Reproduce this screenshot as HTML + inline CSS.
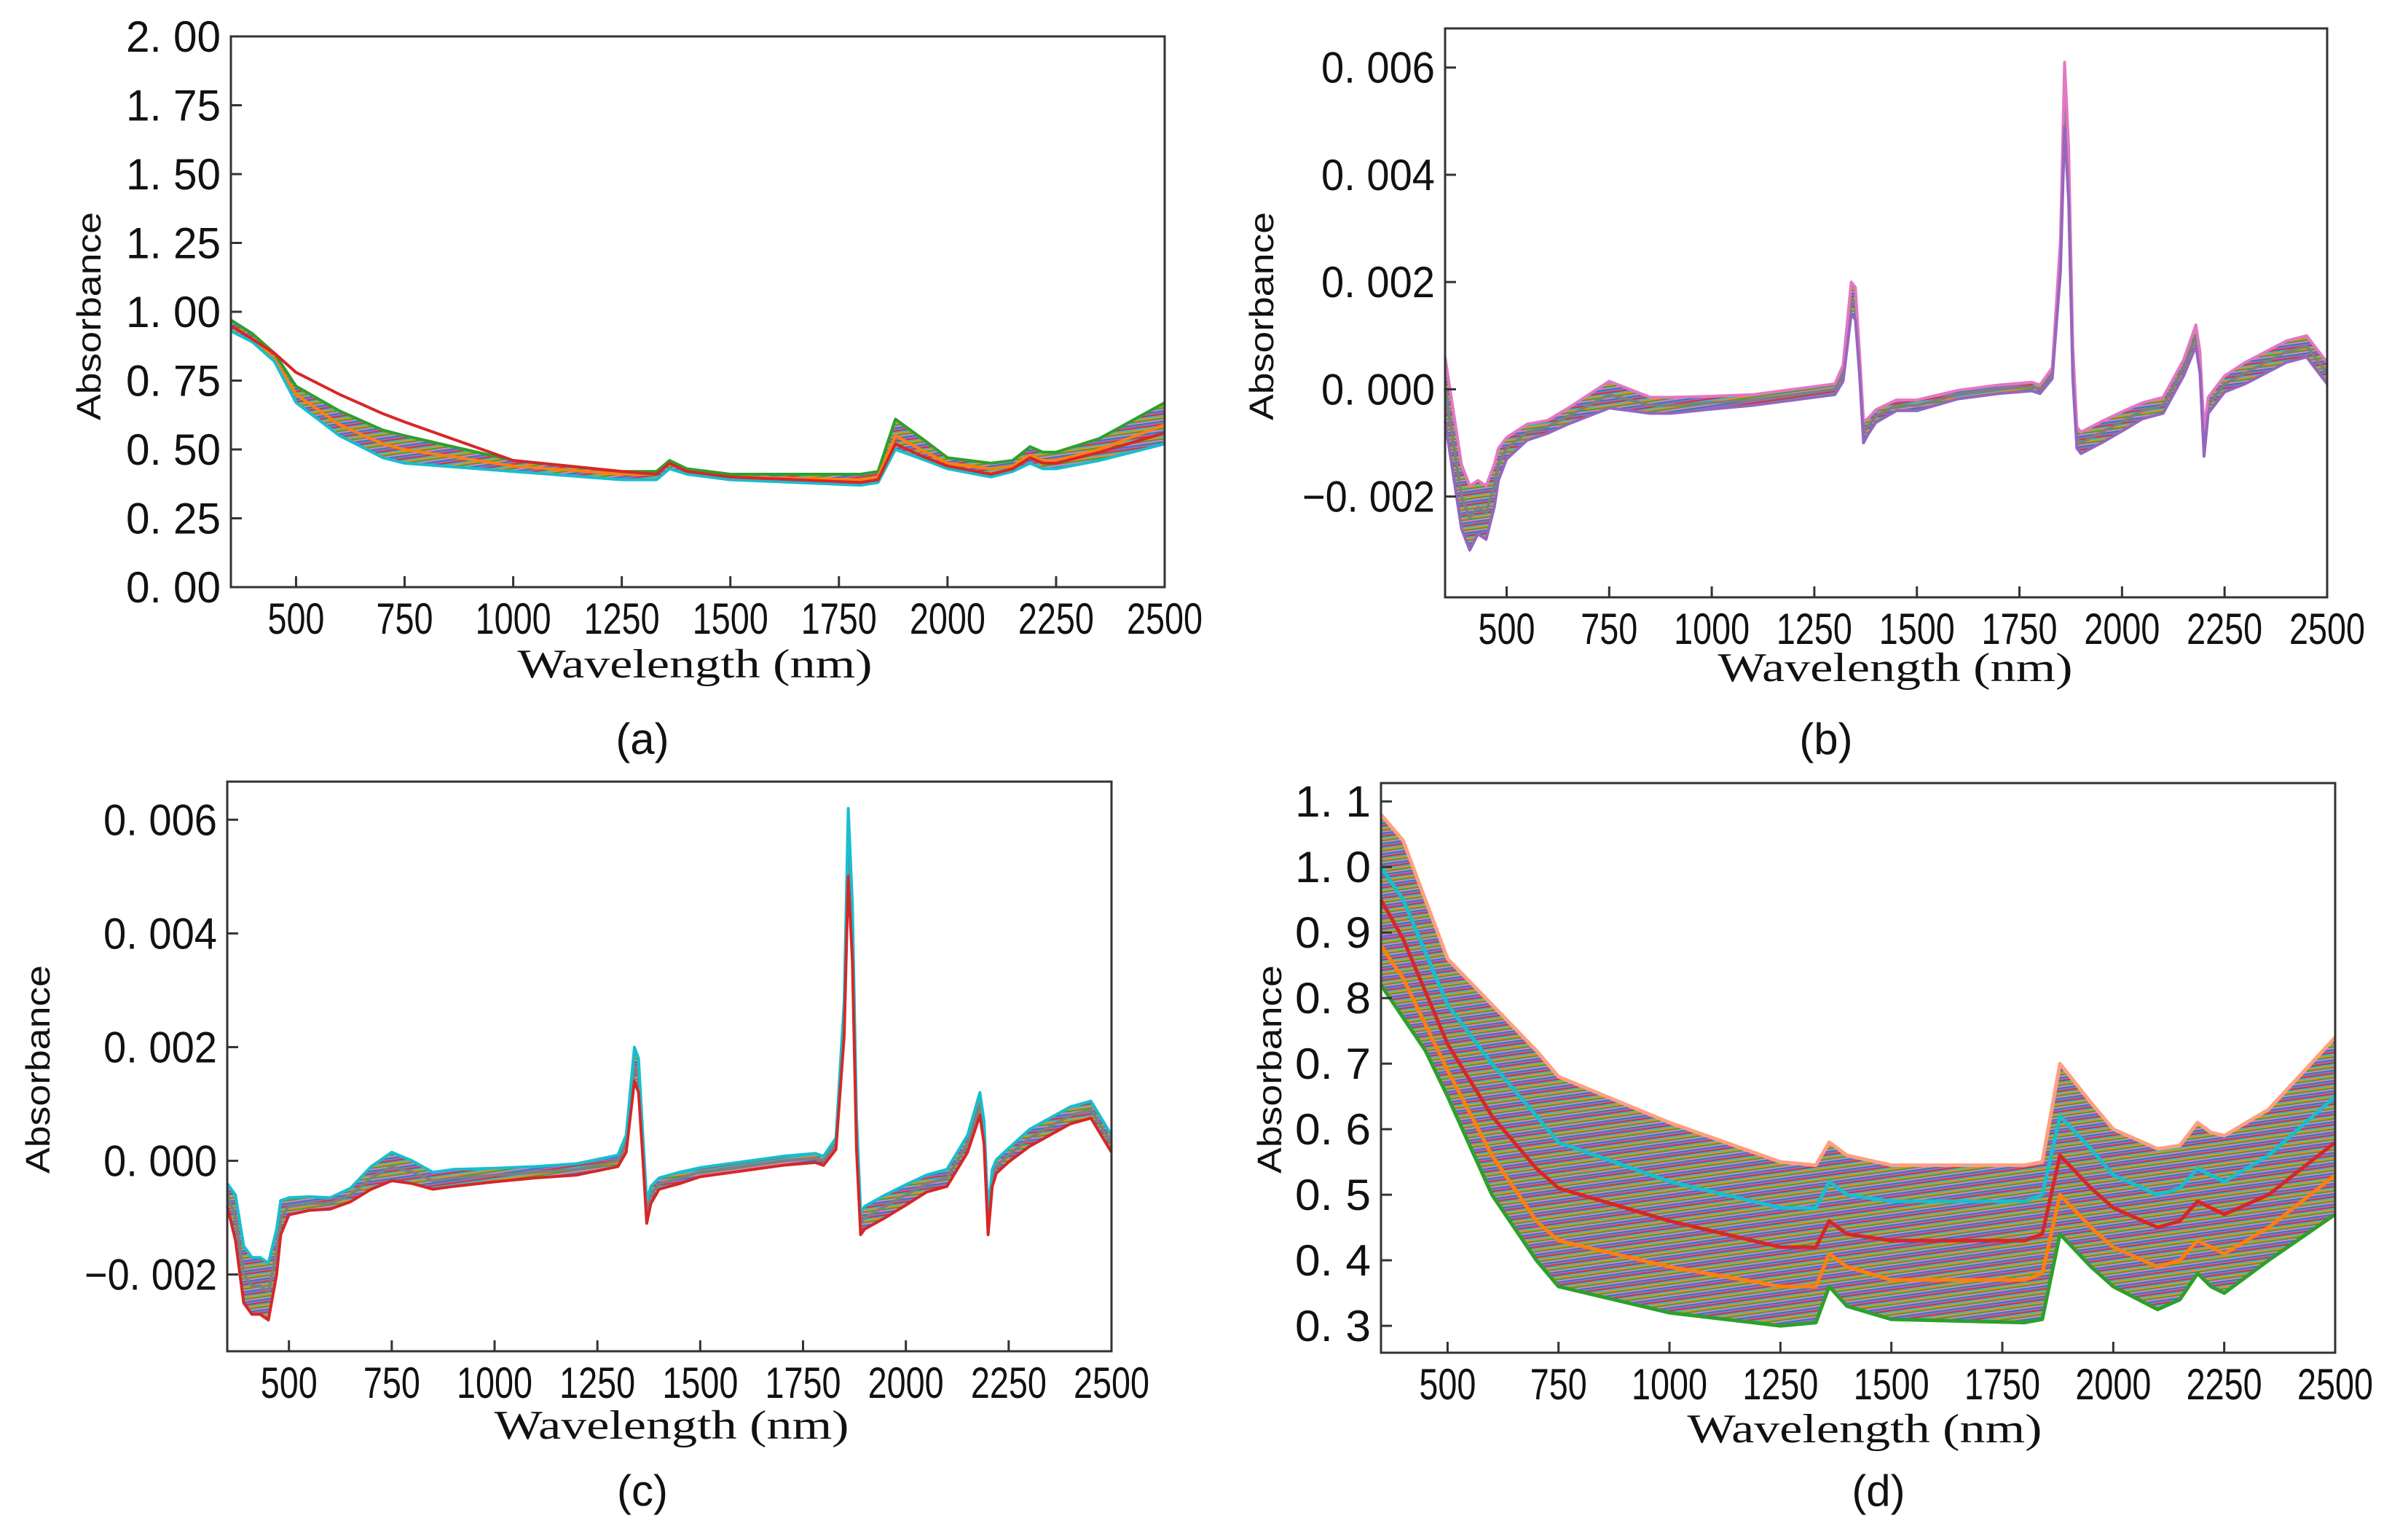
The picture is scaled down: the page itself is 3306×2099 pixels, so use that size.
<!DOCTYPE html>
<html><head><meta charset="utf-8"><style>
html,body{margin:0;padding:0;background:#fff;}
svg{display:block;}
text{fill:#111;}
.tick{font-family:"Liberation Sans","Noto Sans CJK SC",sans-serif;font-size:60px;}
.xl{font-family:"Liberation Serif",serif;font-size:56px;}
.yl{font-family:"Liberation Sans",sans-serif;font-size:46px;}
.cap{font-family:"Liberation Sans",sans-serif;font-size:60px;}
</style></head><body>
<svg id="fig" width="3306" height="2099" viewBox="0 0 3306 2099" xmlns="http://www.w3.org/2000/svg">
<defs>
<pattern id="mix" patternUnits="userSpaceOnUse" width="60" height="14" patternTransform="rotate(-8)">
<rect width="60" height="14" fill="#8c7fa0"/>
<rect y="0" width="60" height="2" fill="#d62728"/>
<rect y="2" width="60" height="2" fill="#17becf"/>
<rect y="4" width="60" height="2" fill="#ff7f0e"/>
<rect y="6" width="60" height="2" fill="#2ca02c"/>
<rect y="8" width="60" height="2" fill="#e377c2"/>
<rect y="10" width="60" height="2" fill="#1f77b4"/>
<rect y="12" width="60" height="2" fill="#9467bd"/>
</pattern>
</defs>
</svg>
<script>
// ---- shared axis data ----
const xTicks = [500,750,1000,1250,1500,1750,2000,2250,2500];

// ---- panel (a) ----
const aWl   = [350,400,450,500,600,700,750,1000,1250,1330,1360,1400,1500,1800,1840,1880,1950,2000,2100,2150,2190,2220,2250,2350,2500];
const aHigh = [0.97,0.92,0.85,0.73,0.64,0.57,0.55,0.46,0.42,0.42,0.46,0.43,0.41,0.41,0.42,0.61,0.53,0.47,0.45,0.46,0.51,0.49,0.49,0.54,0.67];
const aMid  = [0.95,0.90,0.83,0.70,0.59,0.52,0.50,0.44,0.41,0.41,0.45,0.42,0.40,0.39,0.40,0.55,0.49,0.45,0.43,0.44,0.48,0.46,0.46,0.50,0.59];
const aLow  = [0.93,0.89,0.82,0.67,0.55,0.47,0.45,0.42,0.39,0.39,0.43,0.41,0.39,0.37,0.38,0.50,0.46,0.43,0.40,0.42,0.45,0.43,0.43,0.46,0.52];
const aOut  = [0.95,0.90,0.85,0.78,0.70,0.63,0.60,0.46,0.42,0.41,0.45,0.42,0.40,0.38,0.39,0.52,0.47,0.44,0.41,0.43,0.47,0.45,0.45,0.49,0.56];
const aYTicks = [0,0.25,0.5,0.75,1.0,1.25,1.5,1.75,2.0];
const aYLabels = ["0. 00","0. 25","0. 50","0. 75","1. 00","1. 25","1. 50","1. 75","2. 00"];

// ---- panel (b) (values in units of 0.001) ----
const dWl    = [350,370,390,410,430,450,470,480,500,550,600,650,700,750,800,850,900,1000,1100,1200,1300,1320,1340,1350,1360,1370,1380,1400,1450,1500,1600,1700,1780,1800,1830,1850,1860,1870,1880,1890,1900,1950,2000,2050,2100,2150,2180,2190,2200,2210,2220,2250,2300,2350,2400,2450,2500];
const bMean  = [0.0,-1.0,-2.0,-2.4,-2.2,-2.3,-1.8,-1.4,-1.1,-0.8,-0.7,-0.5,-0.3,-0.1,-0.2,-0.3,-0.3,-0.25,-0.2,-0.1,0.0,0.3,1.7,1.6,0.5,-0.8,-0.7,-0.5,-0.3,-0.3,-0.1,0.0,0.05,0.0,0.3,2.5,5.5,4.0,0.5,-0.9,-1.0,-0.8,-0.6,-0.4,-0.3,0.4,1.0,0.5,-1.0,-0.3,-0.2,0.1,0.3,0.5,0.7,0.8,0.3];
const bSpread= [0.6,0.6,0.6,0.6,0.5,0.5,0.4,0.3,0.2,0.15,0.12,0.15,0.2,0.25,0.2,0.15,0.15,0.12,0.1,0.1,0.1,0.15,0.3,0.3,0.2,0.2,0.15,0.12,0.1,0.1,0.08,0.08,0.08,0.08,0.1,0.3,0.6,0.5,0.3,0.2,0.2,0.2,0.18,0.15,0.15,0.15,0.2,0.2,0.25,0.15,0.15,0.15,0.2,0.2,0.2,0.2,0.2];
const bYTicks = [-0.002,0,0.002,0.004,0.006];
const bYLabels = ["\u22120. 002","0. 000","0. 002","0. 004","0. 006"];

// ---- panel (c) ----
const cMean  = [-0.6,-1.0,-2.0,-2.2,-2.2,-2.3,-1.6,-1.0,-0.8,-0.75,-0.75,-0.6,-0.3,-0.1,-0.2,-0.35,-0.3,-0.25,-0.2,-0.15,0.0,0.3,1.7,1.5,0.3,-0.9,-0.6,-0.4,-0.3,-0.2,-0.1,0.0,0.05,0.0,0.3,2.5,5.6,4.0,0.5,-1.1,-1.0,-0.8,-0.6,-0.4,-0.3,0.3,1.0,0.5,-1.1,-0.3,-0.1,0.1,0.4,0.6,0.8,0.9,0.3];
const cSpread= [0.2,0.4,0.5,0.5,0.5,0.5,0.4,0.3,0.15,0.12,0.1,0.12,0.2,0.25,0.2,0.15,0.15,0.12,0.1,0.1,0.1,0.15,0.3,0.3,0.2,0.2,0.15,0.1,0.1,0.08,0.08,0.08,0.08,0.08,0.1,0.3,0.6,0.5,0.3,0.2,0.2,0.2,0.18,0.15,0.15,0.15,0.2,0.2,0.2,0.15,0.12,0.12,0.15,0.15,0.15,0.15,0.15];
const cYTicks = bYTicks;
const cYLabels = bYLabels;

// ---- panel (d) ----
const dHigh = [1.08,1.04,0.95,0.86,0.79,0.72,0.68,0.61,0.55,0.545,0.58,0.56,0.545,0.545,0.55,0.70,0.64,0.60,0.57,0.575,0.61,0.595,0.59,0.63,0.74];
const dMid1 = [1.00,0.95,0.87,0.79,0.70,0.62,0.58,0.52,0.48,0.48,0.52,0.50,0.49,0.49,0.50,0.62,0.57,0.53,0.50,0.51,0.54,0.53,0.52,0.56,0.65];
const dMid2 = [0.95,0.89,0.81,0.73,0.62,0.54,0.51,0.46,0.42,0.42,0.46,0.44,0.43,0.43,0.44,0.56,0.51,0.48,0.45,0.46,0.49,0.48,0.47,0.50,0.58];
const dMid3 = [0.88,0.83,0.76,0.69,0.56,0.46,0.43,0.39,0.36,0.36,0.41,0.39,0.37,0.37,0.38,0.50,0.45,0.42,0.39,0.40,0.43,0.42,0.41,0.45,0.53];
const dLow  = [0.82,0.77,0.72,0.65,0.50,0.40,0.36,0.32,0.30,0.305,0.36,0.33,0.31,0.305,0.31,0.44,0.39,0.36,0.325,0.34,0.38,0.36,0.35,0.40,0.47];
const dYTicks = [0.3,0.4,0.5,0.6,0.7,0.8,0.9,1.0,1.1];
const dYLabels = ["0. 3","0. 4","0. 5","0. 6","0. 7","0. 8","0. 9","1. 0","1. 1"];

const NS="http://www.w3.org/2000/svg";
const svg=document.getElementById('fig');
function mk(tag,attrs,parent){const e=document.createElementNS(NS,tag);for(const k in attrs)e.setAttribute(k,attrs[k]);(parent||svg).appendChild(e);return e;}

function panel(p){
  const g=mk('g',{});
  
  
  const sx=v=>p.L+(v-350)/(2500-350)*(p.R-p.L);
  const sy=v=>p.B-(v-p.y0)/(p.y1-p.y0)*(p.B-p.T);
  const ptsOf=(wl,vals,k)=>wl.map((w,i)=>sx(w).toFixed(1)+','+sy(vals[i]*k).toFixed(1));
  const hiPts=ptsOf(p.wl,p.hi,p.k), loPts=ptsOf(p.wl,p.lo,p.k).reverse();
  const band=mk('polygon',{points:hiPts.concat(loPts).join(' '),fill:'url(#mix)',opacity:'0.95'},g);
  
  
  const cols=['#17becf','#d62728','#1f77b4','#ff7f0e','#2ca02c','#e377c2','#9467bd'];
  p.lines.forEach((ln,i)=>{
    const pl=mk('polyline',{points:ptsOf(p.wl,ln,p.k).join(' '),fill:'none',stroke:p.colors?p.colors[i]:cols[i%cols.length],'stroke-width':p.sw||5,'stroke-linejoin':'round'},g);
    
    
  });
  const fr=mk('rect',{x:p.L,y:p.T,width:p.R-p.L,height:p.B-p.T,fill:'none',stroke:'#333','stroke-width':3},g);
  
  
  xTicks.forEach(t=>{
    mk('line',{x1:sx(t),x2:sx(t),y1:p.B,y2:p.B-15,stroke:'#333','stroke-width':3},g);
    const s=String(t);
    const tx=mk('text',{x:sx(t),y:p.B+64,'text-anchor':'middle',class:'tick',textLength:s.length*26,lengthAdjust:'spacingAndGlyphs'},g);
    tx.textContent=s;
    
    
  });
  p.yt.forEach((t,i)=>{
    mk('line',{x1:p.L,x2:p.L+15,y1:sy(t),y2:sy(t),stroke:'#333','stroke-width':3},g);
    const s=p.yl[i];
    const ty=mk('text',{x:p.L-14,y:sy(t)+21,'text-anchor':'end',class:'tick',textLength:s.length*26,lengthAdjust:'spacingAndGlyphs'},g);
    ty.textContent=s;
    
    
  });
  const xl=mk('text',{x:p.xlx,y:p.xly,'text-anchor':'middle',class:'xl',textLength:487,lengthAdjust:'spacingAndGlyphs'},g);
  xl.textContent='Wavelength (nm)';
  
  
  const yl=mk('text',{x:0,y:0,'text-anchor':'middle',class:'yl',transform:`translate(${p.ylx},${p.yly}) rotate(-90)`,textLength:286,lengthAdjust:'spacingAndGlyphs'},g);
  yl.textContent='Absorbance';
  
  
  const cp=mk('text',{x:p.cx,y:p.cy,'text-anchor':'middle',class:'cap'},g);
  cp.textContent='('+p.id+')';
  
  
}
function addArr(a,b){return a.map((v,i)=>v+b[i]);}
function subArr(a,b){return a.map((v,i)=>v-b[i]);}

panel({id:'a',L:317,R:1599,T:50,B:806,y0:0,y1:2,k:1,wl:aWl,hi:aHigh,lo:aLow,
  lines:[aHigh,aMid,aLow,aOut],colors:['#2ca02c','#ff7f0e','#17becf','#d62728'],sw:4,
  yt:aYTicks,yl:aYLabels,xlx:954,xly:930,ylx:138,yly:434,cx:882,cy:1035});
panel({id:'b',L:1984,R:3195,T:39,B:820,y0:-3.88,y1:6.73,k:1,wl:dWl,hi:addArr(bMean,bSpread),lo:subArr(bMean,bSpread),
  lines:[bMean,addArr(bMean,bSpread),subArr(bMean,bSpread)],colors:['#7f7f7f','#e377c2','#9467bd'],sw:4,
  yt:bYTicks.map(v=>v*1000),yl:bYLabels,xlx:2602,xly:935,ylx:1748,yly:434,cx:2507,cy:1035});
panel({id:'c',L:312,R:1526,T:1073,B:1855,y0:-3.35,y1:6.67,k:1,wl:dWl,hi:addArr(cMean,cSpread),lo:subArr(cMean,cSpread),
  lines:[cMean,addArr(cMean,cSpread),subArr(cMean,cSpread)],colors:['#7f7f7f','#17becf','#d62728'],sw:4,
  yt:cYTicks.map(v=>v*1000),yl:cYLabels,xlx:922,xly:1975,ylx:68,yly:1468,cx:882,cy:2067});
panel({id:'d',L:1896,R:3206,T:1075,B:1857,y0:0.259,y1:1.128,k:1,wl:aWl,hi:dHigh,lo:dLow,
  lines:[dHigh,dMid1,dMid2,dMid3,dLow],colors:['#ff9f7f','#17becf','#d62728','#ff7f0e','#2ca02c'],sw:5,
  yt:dYTicks,yl:dYLabels,xlx:2560,xly:1980,ylx:1759,yly:1468,cx:2579,cy:2067});
</script>
</body></html>
